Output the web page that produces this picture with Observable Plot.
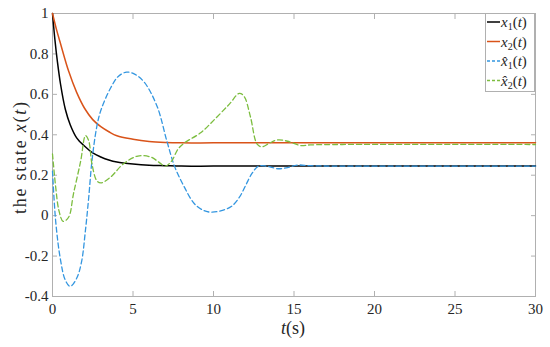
<!DOCTYPE html>
<html>
<head>
<meta charset="utf-8">
<script src="https://cdn.jsdelivr.net/npm/d3@7"></script>
<script src="https://cdn.jsdelivr.net/npm/@observablehq/plot@0.6"></script>
<style>
  html, body { margin: 0; padding: 0; background: #fff; }
  #chart { width: 550px; height: 347px; }
  #chart svg, #chart svg text { font-family: "Liberation Serif", "Times New Roman", "DejaVu Serif", serif !important; }
</style>
</head>
<body>
<div id="chart"></div>
<script>
// ---- data ----
const xTicks = [0, 5, 10, 15, 20, 25, 30];
const yTicks = [-0.4, -0.2, 0, 0.2, 0.4, 0.6, 0.8, 1];

const t1 = [0, 0.15, 0.3, 0.5, 0.8, 1.1, 1.5, 2, 2.5, 3, 3.5, 4, 5, 6, 7, 8, 10, 15, 20, 30];
const x1 = [1, 0.87, 0.765, 0.65, 0.525, 0.45, 0.385, 0.343, 0.31, 0.29, 0.275, 0.265, 0.255, 0.249, 0.247, 0.245, 0.245, 0.245, 0.245, 0.245];

const t2 = [0, 0.25, 0.5, 1, 1.5, 2, 2.5, 3, 3.5, 4, 5, 6, 7, 8, 10, 15, 20, 30];
const x2 = [1, 0.92, 0.85, 0.715, 0.61, 0.53, 0.475, 0.44, 0.415, 0.395, 0.378, 0.367, 0.362, 0.36, 0.36, 0.36, 0.36, 0.36];

const t3 = [0, 0.2, 0.5, 0.8, 1.1, 1.5, 1.8, 2.05, 2.25, 2.45, 2.75, 3.0, 3.6, 4.1, 4.6, 5.1, 5.7, 6.5, 7.1, 7.6, 8.2, 8.8, 9.4, 9.9, 10.5, 11.1, 11.6, 12.0, 12.4, 12.8, 13.3, 14.0, 14.6, 15.2, 16, 18, 30];
const xh1 = [0.22, -0.03, -0.22, -0.32, -0.35, -0.31, -0.23, -0.07, 0.09, 0.27, 0.44, 0.52, 0.63, 0.69, 0.71, 0.70, 0.66, 0.54, 0.37, 0.24, 0.14, 0.06, 0.025, 0.017, 0.025, 0.045, 0.09, 0.15, 0.21, 0.245, 0.245, 0.232, 0.238, 0.25, 0.247, 0.245, 0.245];

const t4 = [0, 0.2, 0.4, 0.66, 1.0, 1.3, 1.75, 2.05, 2.25, 2.45, 2.75, 3.0, 3.6, 4.4, 5.3, 6.1, 6.6, 7.0, 7.4, 7.8, 8.2, 9.2, 10.2, 11.0, 11.6, 11.9, 12.3, 12.7, 13.0, 13.5, 14.0, 14.6, 15.4, 16, 18, 30];
const xh2 = [0.305, 0.14, 0.025, -0.028, -0.008, 0.107, 0.27, 0.396, 0.37, 0.256, 0.173, 0.162, 0.19, 0.256, 0.295, 0.29, 0.265, 0.245, 0.27, 0.33, 0.36, 0.41, 0.487, 0.553, 0.605, 0.59, 0.487, 0.355, 0.34, 0.36, 0.375, 0.368, 0.347, 0.35, 0.352, 0.352];

const colors = ["#000000", "#d95319", "#3396e0", "#7cbd3f"];

const toRows = (ts, vs) => ts.map((t, i) => ({t, v: vs[i]}));
const rows = [toRows(t1, x1), toRows(t2, x2), toRows(t3, xh1), toRows(t4, xh2)];

const axisColor = "#b0b0b0";
const textColor = "#262626";
const serif = "Liberation Serif, Times New Roman, DejaVu Serif, serif";
const fmt = d => String(d);

const chart = Plot.plot({
  width: 550,
  height: 347,
  marginLeft: 52,
  marginRight: 15,
  marginTop: 13,
  marginBottom: 51,
  style: {fontFamily: serif, fontSize: "15px", color: textColor, background: "#fff", overflow: "visible"},
  x: {domain: [0, 30]},
  y: {domain: [-0.4, 1]},
  marks: [
    Plot.frame({stroke: axisColor}),
    Plot.axisX(xTicks, {anchor: "bottom", tickSize: -5, tickPadding: 12, stroke: axisColor, tickFormat: fmt, label: null, fill: textColor}),
    Plot.axisX(xTicks, {anchor: "top", tickSize: -5, stroke: axisColor, tickFormat: () => "", label: null}),
    Plot.axisY(yTicks, {anchor: "left", tickSize: -5, tickPadding: 9, stroke: axisColor, tickFormat: fmt, label: null, fill: textColor}),
    Plot.axisY(yTicks, {anchor: "right", tickSize: -5, stroke: axisColor, tickFormat: () => "", label: null}),
    Plot.line(rows[0], {x: "t", y: "v", stroke: colors[0], strokeWidth: 1.5, curve: "catmull-rom"}),
    Plot.line(rows[1], {x: "t", y: "v", stroke: colors[1], strokeWidth: 1.5, curve: "catmull-rom"}),
    Plot.line(rows[2], {x: "t", y: "v", stroke: colors[2], strokeWidth: 1.3, strokeDasharray: "5,3", curve: "catmull-rom"}),
    Plot.line(rows[3], {x: "t", y: "v", stroke: colors[3], strokeWidth: 1.3, strokeDasharray: "5,3", curve: "catmull-rom"})
  ]
});

document.getElementById("chart").appendChild(chart);

// ---- axis titles and legend (text annotations) ----
const svg = d3.select(chart);

// x-axis title: t(s)
const xt = svg.append("text")
  .attr("x", 293).attr("y", 334)
  .attr("text-anchor", "middle")
  .attr("fill", textColor)
  .style("font-size", "18px");
xt.append("tspan").style("font-style", "italic").text("t");
xt.append("tspan").text("(s)");

// y-axis title: the state x(t)
const yt = svg.append("text")
  .attr("transform", "translate(26,158) rotate(-90)")
  .attr("text-anchor", "middle")
  .attr("textLength", 112)
  .attr("lengthAdjust", "spacing")
  .attr("fill", textColor)
  .style("font-size", "18px");
yt.append("tspan").text("the state ");
yt.append("tspan").style("font-style", "italic").text("x");
yt.append("tspan").text("(");
yt.append("tspan").style("font-style", "italic").text("t");
yt.append("tspan").text(")");

// legend
const lg = svg.append("g");
lg.append("rect")
  .attr("x", 485.5).attr("y", 13.5).attr("width", 49).attr("height", 78)
  .attr("fill", "#fff").attr("stroke", axisColor);
const legendRows = [
  {sub: "1", hat: false},
  {sub: "2", hat: false},
  {sub: "1", hat: true},
  {sub: "2", hat: true}
];
legendRows.forEach((r, i) => {
  const cy = 22 + i * 19.5;
  lg.append("line")
    .attr("x1", 487).attr("x2", 500).attr("y1", cy).attr("y2", cy)
    .attr("stroke", colors[i])
    .attr("stroke-width", i < 2 ? 1.5 : 1.3)
    .attr("stroke-dasharray", i < 2 ? null : "3,2");
  const tx = lg.append("text")
    .attr("x", 501).attr("y", cy + 5)
    .attr("text-anchor", "start")
    .attr("fill", textColor)
    .style("font-size", "15px");
  tx.append("tspan").style("font-style", "italic").text(r.hat ? "x\u0302" : "x");
  tx.append("tspan").attr("dy", 3).style("font-size", "10px").text(r.sub);
  tx.append("tspan").attr("dy", -3).text("(");
  tx.append("tspan").style("font-style", "italic").text("t");
  tx.append("tspan").text(")");
});
</script>
</body>
</html>
